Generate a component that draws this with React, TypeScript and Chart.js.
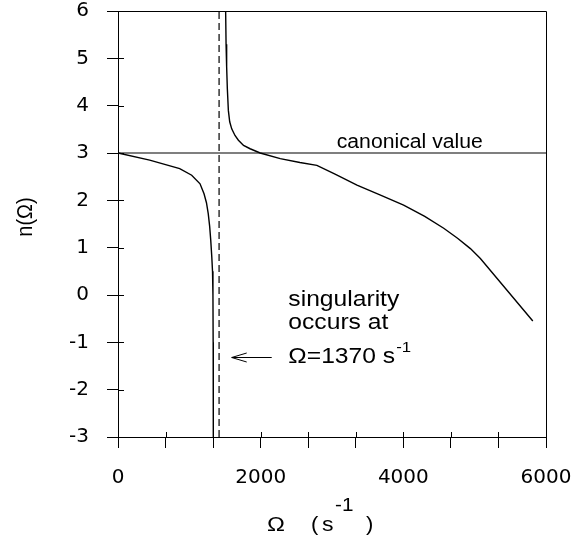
import React, { useEffect, useRef } from "react";
import { Chart, registerables } from "chart.js";

Chart.register(...registerables);

// ---- data ----
const lowerOmega = [0, 444, 865, 1033, 1150, 1206, 1240, 1265, 1285, 1300, 1315, 1325, 1331, 1334, 1336];
const lowerN = [3.0, 2.85, 2.67, 2.53, 2.35, 2.14, 1.95, 1.72, 1.45, 1.16, 0.8, 0.5, 0.0, -1.0, -3.0];

const upperOmega = [1509, 1515, 1523, 1533, 1547, 1566, 1594, 1640, 1688, 1760, 1852, 1993, 2274, 2550, 2788, 3050, 3350, 3680, 4004, 4300, 4566, 4760, 4940, 5080, 5815];
const upperN = [6.0, 5.3, 4.82, 4.35, 3.9, 3.66, 3.51, 3.37, 3.27, 3.16, 3.09, 3.0, 2.88, 2.8, 2.74, 2.55, 2.32, 2.11, 1.9, 1.66, 1.41, 1.2, 0.98, 0.77, -0.55];

const canonicalOmega = [0, 6000];
const canonicalN = [3, 3];

const singularityOmega = [1417, 1417];
const singularityN = [-3, 6];

const xMin = 0;
const xMax = 6000;
const xTickIntervals = 9;
const xLabelStep = 2000;
const yMin = -3;
const yMax = 6;

// annotation anchors (data coordinates)
const canonicalLabel = { text: "canonical value", omega: 3066, n: 3.1 };
const noteLines = ["singularity", "occurs at"];
const noteOmega = 2388;
const noteN = [-0.23, -0.72];
const noteLast = { text: "\u03A9=1370 s", sup: "-1", n: -1.44 };
const arrowFrom = { omega: 2155, n: -1.32 };
const arrowTo = { omega: 1594, n: -1.32 };

const SANS = '"Liberation Sans", Arial, sans-serif';
const TICK_FONT = '"DejaVu Sans", sans-serif';

function drawStretched(ctx: CanvasRenderingContext2D, text: string, x: number, y: number, size: number, sx: number) {
  ctx.save();
  ctx.translate(x, y);
  ctx.scale(sx, 1);
  ctx.font = `${size}px ${SANS}`;
  ctx.textAlign = "left";
  ctx.textBaseline = "alphabetic";
  ctx.fillStyle = "#000";
  ctx.fillText(text, 0, 0);
  const w = ctx.measureText(text).width * sx;
  ctx.restore();
  return w;
}

const decorPlugin = {
  id: "decor",
  afterDraw(chart: any) {
    const ctx: CanvasRenderingContext2D = chart.ctx;
    const a = chart.chartArea;
    const xs = chart.scales.x;
    const ys = chart.scales.y;
    ctx.save();
    ctx.strokeStyle = "#000";
    ctx.lineWidth = 1;
    // box
    ctx.beginPath();
    ctx.moveTo(a.left, a.top + 0.5);
    ctx.lineTo(a.right + 0.5, a.top + 0.5);
    ctx.lineTo(a.right + 0.5, a.bottom);
    ctx.stroke();
    // inner tick parts
    ctx.beginPath();
    xs.ticks.forEach((t: any) => {
      const px = Math.round(xs.getPixelForValue(t.value)) + 0.5;
      ctx.moveTo(px, a.bottom);
      ctx.lineTo(px, a.bottom - 5);
    });
    ys.ticks.forEach((t: any) => {
      const py = Math.round(ys.getPixelForValue(t.value)) + 0.5;
      ctx.moveTo(a.left, py);
      ctx.lineTo(a.left + 6, py);
    });
    ctx.stroke();

    // canonical label
    drawStretched(ctx, canonicalLabel.text, xs.getPixelForValue(canonicalLabel.omega), ys.getPixelForValue(canonicalLabel.n), 20, 1.06);

    // singularity note
    const nx = xs.getPixelForValue(noteOmega);
    noteLines.forEach((s, i) => drawStretched(ctx, s, nx, ys.getPixelForValue(noteN[i]), 22, 1.12));
    const ly = ys.getPixelForValue(noteLast.n);
    const w = drawStretched(ctx, noteLast.text, nx, ly, 22, 1.12);
    drawStretched(ctx, noteLast.sup, nx + w + 1, ly - 11, 15, 1.12);

    // arrow
    const ax0 = xs.getPixelForValue(arrowFrom.omega);
    const ay = Math.round(ys.getPixelForValue(arrowFrom.n)) + 0.5;
    const ax1 = xs.getPixelForValue(arrowTo.omega);
    ctx.beginPath();
    ctx.moveTo(ax0, ay);
    ctx.lineTo(ax1, ay);
    ctx.moveTo(ax1 + 15, ay - 4.5);
    ctx.lineTo(ax1, ay);
    ctx.lineTo(ax1 + 15, ay + 4.5);
    ctx.stroke();

    // x axis title: Ω ( s^-1 )
    const by = 531;
    drawStretched(ctx, "\u03A9", 267, by, 20, 1.2);
    drawStretched(ctx, "(", 311, by, 20, 1.1);
    drawStretched(ctx, "s", 322, by, 20, 1.15);
    drawStretched(ctx, "-1", 335, by - 20, 18, 1.15);
    drawStretched(ctx, ")", 366, by, 20, 1.1);

    // y axis title: n(Ω)
    ctx.save();
    ctx.translate(32, 217);
    ctx.rotate(-Math.PI / 2);
    ctx.scale(1, 1.12);
    ctx.font = `20px ${SANS}`;
    ctx.textAlign = "center";
    ctx.textBaseline = "alphabetic";
    ctx.fillStyle = "#000";
    ctx.fillText("n(\u03A9)", 0, 0);
    ctx.restore();

    ctx.restore();
  },
};

const toPts = (xs: number[], ys: number[]) => xs.map((x, i) => ({ x, y: ys[i] }));

export default function App() {
  const ref = useRef<HTMLCanvasElement>(null);
  useEffect(() => {
    document.body.style.margin = "0";
    const canvas = ref.current;
    if (!canvas) return;
    const lineStyle = { borderColor: "#000", borderWidth: 1.4, pointRadius: 0, tension: 0, fill: false };
    const chart = new Chart(canvas, {
      type: "line",
      data: {
        datasets: [
          { label: "lower", data: toPts(lowerOmega, lowerN), ...lineStyle },
          { label: "upper", data: toPts(upperOmega, upperN), ...lineStyle },
          { label: "canonical", data: toPts(canonicalOmega, canonicalN), ...lineStyle, borderWidth: 1.2 },
          { label: "singularity", data: toPts(singularityOmega, singularityN), ...lineStyle, borderWidth: 1.2, borderDash: [7, 4] },
        ],
      },
      plugins: [decorPlugin],
      options: {
        responsive: false,
        animation: false,
        events: [],
        layout: { padding: { top: 11, right: 38, left: 0, bottom: 0 } },
        plugins: { legend: { display: false }, tooltip: { enabled: false } },
        scales: {
          x: {
            type: "linear",
            min: xMin,
            max: xMax,
            afterFit: (s: any) => {
              s.height = 99;
              s.paddingLeft = 0;
              s.paddingRight = 0;
            },
            afterBuildTicks: (s: any) => {
              const t = [];
              for (let i = 0; i <= xTickIntervals; i++) t.push({ value: xMin + (i * (xMax - xMin)) / xTickIntervals });
              s.ticks = t;
            },
            ticks: {
              autoSkip: false,
              maxRotation: 0,
              padding: 18,
              color: "#000",
              font: { family: TICK_FONT, size: 20 },
              callback: (v: any) => {
                const r = Math.round(Number(v));
                return r % xLabelStep === 0 ? String(r) : "";
              },
            },
            grid: { drawOnChartArea: false, drawTicks: true, tickLength: 11, color: "#000", lineWidth: 1 },
            border: { display: true, color: "#000", width: 1 },
          },
          y: {
            type: "linear",
            min: yMin,
            max: yMax,
            afterFit: (s: any) => {
              s.width = 118;
              s.paddingTop = 0;
              s.paddingBottom = 0;
            },
            ticks: {
              stepSize: 1,
              padding: 18,
              color: "#000",
              font: { family: TICK_FONT, size: 20 },
            },
            grid: { drawOnChartArea: false, drawTicks: true, tickLength: 11, color: "#000", lineWidth: 1 },
            border: { display: true, color: "#000", width: 1 },
          },
        },
      },
    });
    return () => chart.destroy();
  }, []);
  return (
    <div style={{ width: 584, height: 536 }}>
      <canvas ref={ref} width={584} height={536} style={{ display: "block" }} />
    </div>
  );
}
